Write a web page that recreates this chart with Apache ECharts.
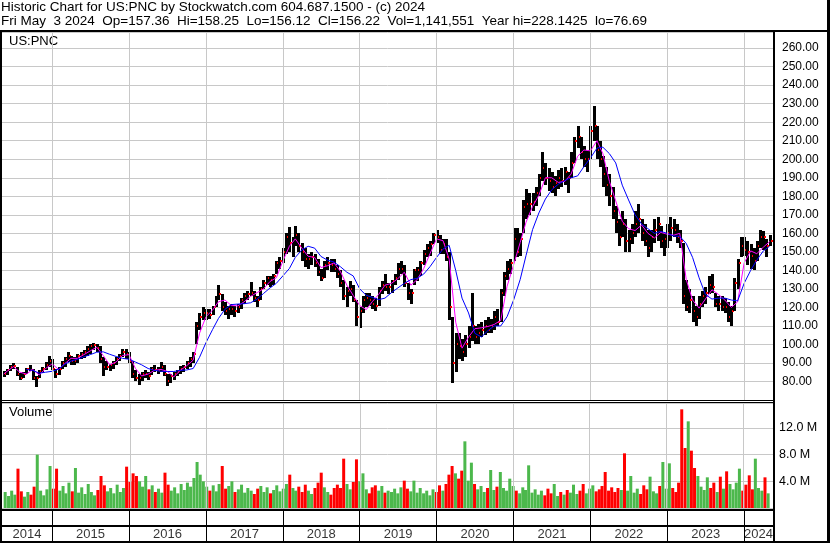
<!DOCTYPE html>
<html><head><meta charset="utf-8">
<script src="https://cdn.jsdelivr.net/npm/echarts@6/dist/echarts.min.js"></script>
<style>html,body{margin:0;padding:0;background:#fff;overflow:hidden}#c{width:830px;height:543px}</style>
</head><body><div id="c"></div><script>
// ---------- DATA (half-monthly samples) ----------
const title1 = 'Historic Chart for US:PNC by Stockwatch.com 604.687.1500 - (c) 2024';
const title2 = 'Fri May  3 2024  Op=157.36  Hi=158.25  Lo=156.12  Cl=156.22  Vol=1,141,551  Year hi=228.1425  lo=76.69';
const symbolName = 'US:PNC';
const years = [2014,2015,2016,2017,2018,2019,2020,2021,2022,2023,2024];
const axisStart = '2014-05-08', axisEnd = '2024-05-17';
const firstBarDate = [2014, 5, 16];

const lows = [
 82.5,83.5,85.5,86.5,83,81,82,84,85.5,81,77,82,84.5,86,88,
 86,82,83.5,86.5,88,90.5,89,89,90,92,92.5,94,95,97,96,90,83,86,85.5,87,89,91,93,92,
 90,82,80,78,80.5,82,81,83.5,85,84,85,83,77.5,79,81,83,84,85,87,88,90,100,108,113,
 113,114,116,120,124,118,116,114,116,115,117,119,122,124,126,123,120,124,130,132,131,132,138,141,
 144,149,150,147,153,150,145,142,141,143,142,137,134,136,140,139,139,136,131,124,120,126,123,110,
 109,117,120,121,119,118,121,127,129,127,128,132,135,138,131,124,122,132,134,137,143,147,148,154,
 155,149,149,145,113,79,85,92,91,93,98,102,100,100,104,105,106,106,108,110,112,126,135,138,
 145,147,148,160,168,170,172,175,180,188,186,183,182,180,184,185,186,182,190,198,206,200,196,193,
 200,210,200,196,185,180,175,168,160,153,158,150,150,154,158,160,156,153,147,150,155,156,152,148,
 152,156,158,155,152,122,118,117,112,110,114,120,122,127,128,120,118,118,117,112,110,118,130,147,
 148,143,141,140,145,152,151,147,153];
const highs = [
 85.5,86.5,89,90,88,84.5,85,87.5,89,87,83,86,88,90.5,94,
 92,87,88,91,93,96,94,93,95,96,97,99,100,101,100.5,99,93,91,89.5,91,93,95,97.5,97.5,
 96,91,86,84,85,86,85,88,89,88,90.5,89,84,84,85,86,88.5,89,91,93,96,112,117,120,
 119,119,121,126,132,127,123,121,122,121,122,125,128,129,133.5,129,126,131,135,137,137,138,145,147,
 152,160,163.5,158,164,160,155,152,149,150,149,146,141,145,147,146,146,143,140,135,131,134,132,124,
 120,126,128,128,126,125,131,134,138,133,135,138,144,145,143,133,130,141,142,145,151,154,156,160,
 162,159,157,157,150,115,106,106,103,105,110,128,110,111,112,113,115,114,118,119,130,139,145,146,
 163,163,160,178,184,182,182,185,192,204,198,195,193,191,194,195,196,193,204,212,218,212,207,205,
 218,228.5,218,210,202,196,192,185,175,168,172,168,162,165,172,176,168,165,162,162,168,169,164,160,
 165,169,168,165,162,155,135,130,126,121,126,129,131,137,138,128,126,126,125,123,121,136,146,158,
 158,156,154,152,156,162,161,157,159];
const closes = [
 84,86,88,88.5,84,82,84,87,86,82,82,85.5,87,89,91,
 87,84,87,90,92,94,91,91,94,95,96,97.5,99,99.5,98,92,88,88,89,90,92,94,96,95,
 91,84,82,82,84,84,83,87,86,86,88,84,80,83,84,85,87,88,90,92,95,110,115,117,
 117,116,120,125,127,120,118,119,119,118,120,124,126,127,128,125,124,130,133,136,135,137,144,145,
 150,158,155,156,159,153,150,146,146,147,144,139,136,143,144,143,141,138,133,126,129,130,124,115,
 118,124,125,124,122,121,129,132,131,131,134,136,141,141,133,128,128,140,140,144,149,152,154,159,
 158,151,154,147,120,90,100,99,96,100,104,110,104,106,108,110,108,110,115,112,128,137,141,144,
 157,150,157,174,176,176,177,182,190,195,190,188,185,187,190,188,193,190,198,210,212,204,200,200,
 215,218,205,200,192,186,180,172,166,158,165,156,157,160,165,168,160,156,152,158,162,165,156,157,
 160,163,162,158,156,126,120,124,118,115,122,126,128,132,131,122,122,120,120,115,118,133,144,153,
 151,150,148,145,153,158,158,153,156];
// volume in millions of shares
const volumes = [
 2.4,1.8,2.6,2.0,5.9,2.5,1.7,2.4,2.0,3.2,8.0,2.6,1.9,2.8,6.3,
 2.9,5.9,2.6,3.3,2.2,3.8,2.5,6.0,2.3,3.1,2.1,3.6,2.4,1.9,2.7,4.8,3.4,2.5,3.0,2.2,3.5,2.4,3.0,6.2,
 3.9,5.2,4.8,4.0,3.2,4.8,2.8,3.4,2.4,2.9,2.3,5.3,3.5,2.6,3.1,2.2,3.6,2.7,3.8,3.2,4.5,6.9,5.0,4.0,
 3.2,2.6,3.4,2.5,3.6,6.3,2.9,3.3,4.0,2.4,2.8,3.5,2.3,3.0,2.6,2.1,2.9,3.3,2.4,3.1,2.2,2.7,3.4,2.5,
 2.9,3.6,5.0,3.0,2.6,3.2,2.4,3.5,2.6,2.1,3.0,3.8,5.3,3.1,2.4,2.0,3.0,3.5,3.0,7.4,3.6,2.8,3.9,7.3,
 4.0,5.2,2.8,2.2,3.1,3.4,2.6,3.3,2.3,2.6,2.4,2.9,2.2,3.1,4.1,2.9,2.5,4.1,2.3,3.0,2.2,2.6,1.9,2.8,
 2.4,3.4,2.6,3.6,5.0,6.3,5.2,4.4,5.6,10.0,4.1,6.8,3.6,2.8,3.3,2.4,3.0,5.7,2.7,3.2,5.4,3.0,2.6,4.4,
 3.3,2.6,2.2,3.1,2.7,6.4,2.3,2.8,2.0,2.6,1.9,2.9,2.2,3.6,1.8,2.4,2.0,2.7,2.3,3.5,2.1,2.6,3.6,2.2,
 2.9,3.4,2.5,2.8,3.3,5.4,2.6,3.1,2.4,3.0,2.7,8.2,2.6,4.8,2.3,2.9,2.1,3.4,2.8,4.7,2.5,2.2,3.3,6.9,
 2.9,6.7,3.0,2.4,3.8,14.8,9.0,13.0,8.6,6.0,4.8,3.2,2.7,4.6,3.0,3.8,2.4,4.7,2.9,5.5,3.6,2.8,3.8,5.9,
 2.6,3.5,4.9,2.8,7.4,3.0,2.6,4.6,2.2];
// moving averages, sampled on 2014-05-16 and then on the 1st of each month
const maFast = [
 84,85.5,88,85,84,86.5,83.5,87,
 89.5,86.5,89.5,92.5,92.5,94.5,96.5,98.5,94,89,90.5,94,
 94.5,87,83,84,86,86.5,85.5,82.5,86,88.5,91.5,106,
 115,118.5,123,124,121,120.8,123,126,128,130,134,136,
 145,153,157,152,147.6,147,141.5,142.5,144,139.5,132,126.5,
 121,118.8,123,127,132,133,135.5,139,132,135,141,149,
 157,156,146,112,98,104,108.5,109,109.7,110.8,113,131.4,
 143,155,166,174.5,180.5,190,190,187.5,188,192,201.6,205,
 204.5,210,203,188,177.5,166.5,162.5,161.5,164.5,160,157.5,160.5,
 159.5,159,160,135,124,119.6,124.5,129.5,127,124,120,123,
 144,150.5,149,152.5,155.5];
const maSlow = [
 null,null,null,null,86.5,86,84.5,85,
 85.5,86.7,89.3,91,92,93.3,94.5,95.8,96,94.7,93.5,92.5,
 92,90.5,89,87,86,85.5,85.4,85.4,86,86.2,87,93,
 101,108,114,119,121.5,121.8,122,122.5,124.5,127.5,130.5,133,
 137,141,147,151,153,152,147.5,145.5,144.5,142,139,137,
 130,126.5,125.5,124.2,125,128,130.5,133,135,135.7,138,142,
 147,151.5,153.5,140,125,117,106,104,107.5,110,110,115,
 124,135,148,162,171,178.5,183.5,186.5,188.5,190,191,196,
 200.7,206,206.5,203,198,186,178,170,165,162.5,160,161,
 160,158.5,158.4,154.5,147,136,127,124.5,125,125,124,123.5,
 133,140,145.5,150.5,153];
const priceTicks = {min: 70, max: 268.7, step: 10, firstLabel: 80, lastLabel: 260};
const volTicks = {min: 0, max: 15.75, step: 4, lastLabel: 12};

// ---------- derived helpers ----------
function pad(n){return (n<10?'0':'')+n;}
const barDates = [];
(function(){let y=firstBarDate[0], m=firstBarDate[1], d=firstBarDate[2];
  for(let i=0;i<lows.length;i++){barDates.push(y+'-'+pad(m)+'-'+pad(d));
    if(d===16){d=1;m++;if(m>12){m=1;y++;}}else d=16;}})();
const maDates = barDates.filter((d,i)=> i===0 || d.endsWith('-01'));
const tMin = echarts.time.parse(axisStart).getTime(), tMax = echarts.time.parse(axisEnd).getTime();
const boundaries = years.slice(1).map(y=>y+'-01-01');
const yearMid = years.map(y=>{
  const a=Math.max(tMin, echarts.time.parse(y+'-01-01').getTime());
  const b=Math.min(tMax, echarts.time.parse((y+1)+'-01-01').getTime());
  return [(a+b)/2, 0.2, String(y)];
});

const FONT = 'Liberation Sans, Arial, sans-serif';
const GRID_GREY = '#c8c8c8';
const GREEN = '#4cb84c', RED = '#ff0000';

const chart = echarts.init(document.getElementById('c'), null, {renderer:'canvas'});
const xAx = i => ({type:'time', gridIndex:i, min:axisStart, max:axisEnd, show:false});
function vlines(color){
  return {symbol:'none', silent:true, animation:false, label:{show:false},
    lineStyle:{color:color, width:1, type:'solid'},
    emphasis:{disabled:true},
    data: boundaries.map(d=>({xAxis:d}))};
}
chart.setOption({
  animation:false,
  backgroundColor:'#fff',
  grid:[
    {left:2, top:32, width:771, height:368},
    {left:2, top:403, width:771, height:105},
    {left:2, top:510, width:771, height:31}
  ],
  xAxis:[xAx(0), xAx(1), xAx(2)],
  yAxis:[
    {type:'value', gridIndex:0, position:'right', min:priceTicks.min, max:priceTicks.max, interval:priceTicks.step,
     axisLine:{show:false}, axisTick:{show:false},
     splitLine:{show:true, lineStyle:{color:GRID_GREY, width:1}},
     axisLabel:{margin:9, color:'#000', fontSize:12, fontFamily:FONT,
       formatter:v=> (v>=priceTicks.firstLabel-1e-6 && v<=priceTicks.lastLabel+1e-6 && Math.abs(v%priceTicks.step)<1e-6)? v.toFixed(2):''}},
    {type:'value', gridIndex:1, position:'right', min:volTicks.min, max:volTicks.max, interval:volTicks.step,
     axisLine:{show:false}, axisTick:{show:false},
     splitLine:{show:true, lineStyle:{color:GRID_GREY, width:1}},
     axisLabel:{margin:6, color:'#000', fontSize:12.5, fontFamily:FONT,
       formatter:v=> (v>0 && v<=volTicks.lastLabel+1e-6 && Math.abs(v%volTicks.step)<1e-6)? v.toFixed(1)+' M':''}},
    {type:'value', gridIndex:2, min:0, max:1, show:false}
  ],
  series:[
    {type:'scatter', xAxisIndex:0, yAxisIndex:0, data:[], z:0, markLine:vlines(GRID_GREY)},
    {type:'scatter', xAxisIndex:1, yAxisIndex:1, data:[], z:0, markLine:vlines(GRID_GREY)},
    {type:'scatter', xAxisIndex:2, yAxisIndex:2, data:[], z:0, markLine:vlines('#000')},
    {type:'custom', xAxisIndex:0, yAxisIndex:0, z:2,
     data: barDates.map((d,i)=>[d, lows[i], highs[i], closes[i]]),
     encode:{x:0, y:[1,2,3]},
     renderItem:function(params, api){
       const t=api.value(0);
       const pl=api.coord([t, api.value(1)]), ph=api.coord([t, api.value(2)]), pc=api.coord([t, api.value(3)]);
       const x=Math.round(pl[0]);
       return {type:'group', children:[
         {type:'rect', shape:{x:x-1, y:Math.round(ph[1]), width:3, height:Math.max(1, Math.round(pl[1])-Math.round(ph[1]))}, style:{fill:'#000'}},
         {type:'rect', shape:{x:x+1, y:Math.round(pc[1])-1, width:2, height:2}, style:{fill:RED}}
       ]};
     }},
    {type:'line', xAxisIndex:0, yAxisIndex:0, z:3, symbol:'none', showSymbol:false,
     data: maDates.map((d,i)=>[d, maFast[i]]), lineStyle:{color:'#ff00ff', width:1}},
    {type:'line', xAxisIndex:0, yAxisIndex:0, z:4, symbol:'none', showSymbol:false, connectNulls:false,
     data: maDates.map((d,i)=>[d, maSlow[i]]), lineStyle:{color:'#0000ff', width:1}},
    {type:'bar', xAxisIndex:1, yAxisIndex:1, z:2, barWidth:3,
     data: barDates.map((d,i)=>[d, volumes[i]]),
     itemStyle:{color:p=> (p.dataIndex===0 || closes[p.dataIndex]>=closes[p.dataIndex-1]) ? GREEN : RED}},
    {type:'scatter', xAxisIndex:2, yAxisIndex:2, symbolSize:0, z:5, data: yearMid,
     label:{show:true, position:'inside', formatter:p=>p.data[2], color:'#000', fontSize:13, fontFamily:FONT}}
  ],
  graphic:[
    {type:'text', left:1, top:0, style:{text:title1, font:'13.5px '+FONT, fill:'#000'}},
    {type:'text', left:1, top:14, style:{text:title2, font:'13.5px '+FONT, fill:'#000'}},
    {type:'text', left:9, top:35, style:{text:symbolName, font:'13px '+FONT, fill:'#000'}},
    {type:'text', left:9, top:406, style:{text:'Volume', font:'13px '+FONT, fill:'#000'}},
    {type:'rect', shape:{x:0, y:30, width:830, height:2}, style:{fill:'#000'}, z:10},
    {type:'rect', shape:{x:0, y:30, width:2, height:513}, style:{fill:'#000'}, z:10},
    {type:'rect', shape:{x:827, y:0, width:3, height:543}, style:{fill:'#000'}, z:10},
    {type:'rect', shape:{x:773, y:30, width:2, height:513}, style:{fill:'#000'}, z:10},
    {type:'rect', shape:{x:0, y:400, width:774, height:1}, style:{fill:'#000'}, z:10},
    {type:'rect', shape:{x:0, y:402, width:774, height:1}, style:{fill:'#000'}, z:10},
    {type:'rect', shape:{x:0, y:509, width:774, height:2}, style:{fill:'#000'}, z:10},
    {type:'rect', shape:{x:0, y:525, width:774, height:2}, style:{fill:'#000'}, z:10},
    {type:'rect', shape:{x:0, y:541, width:830, height:2}, style:{fill:'#000'}, z:10}
  ]
});
</script></body></html>
